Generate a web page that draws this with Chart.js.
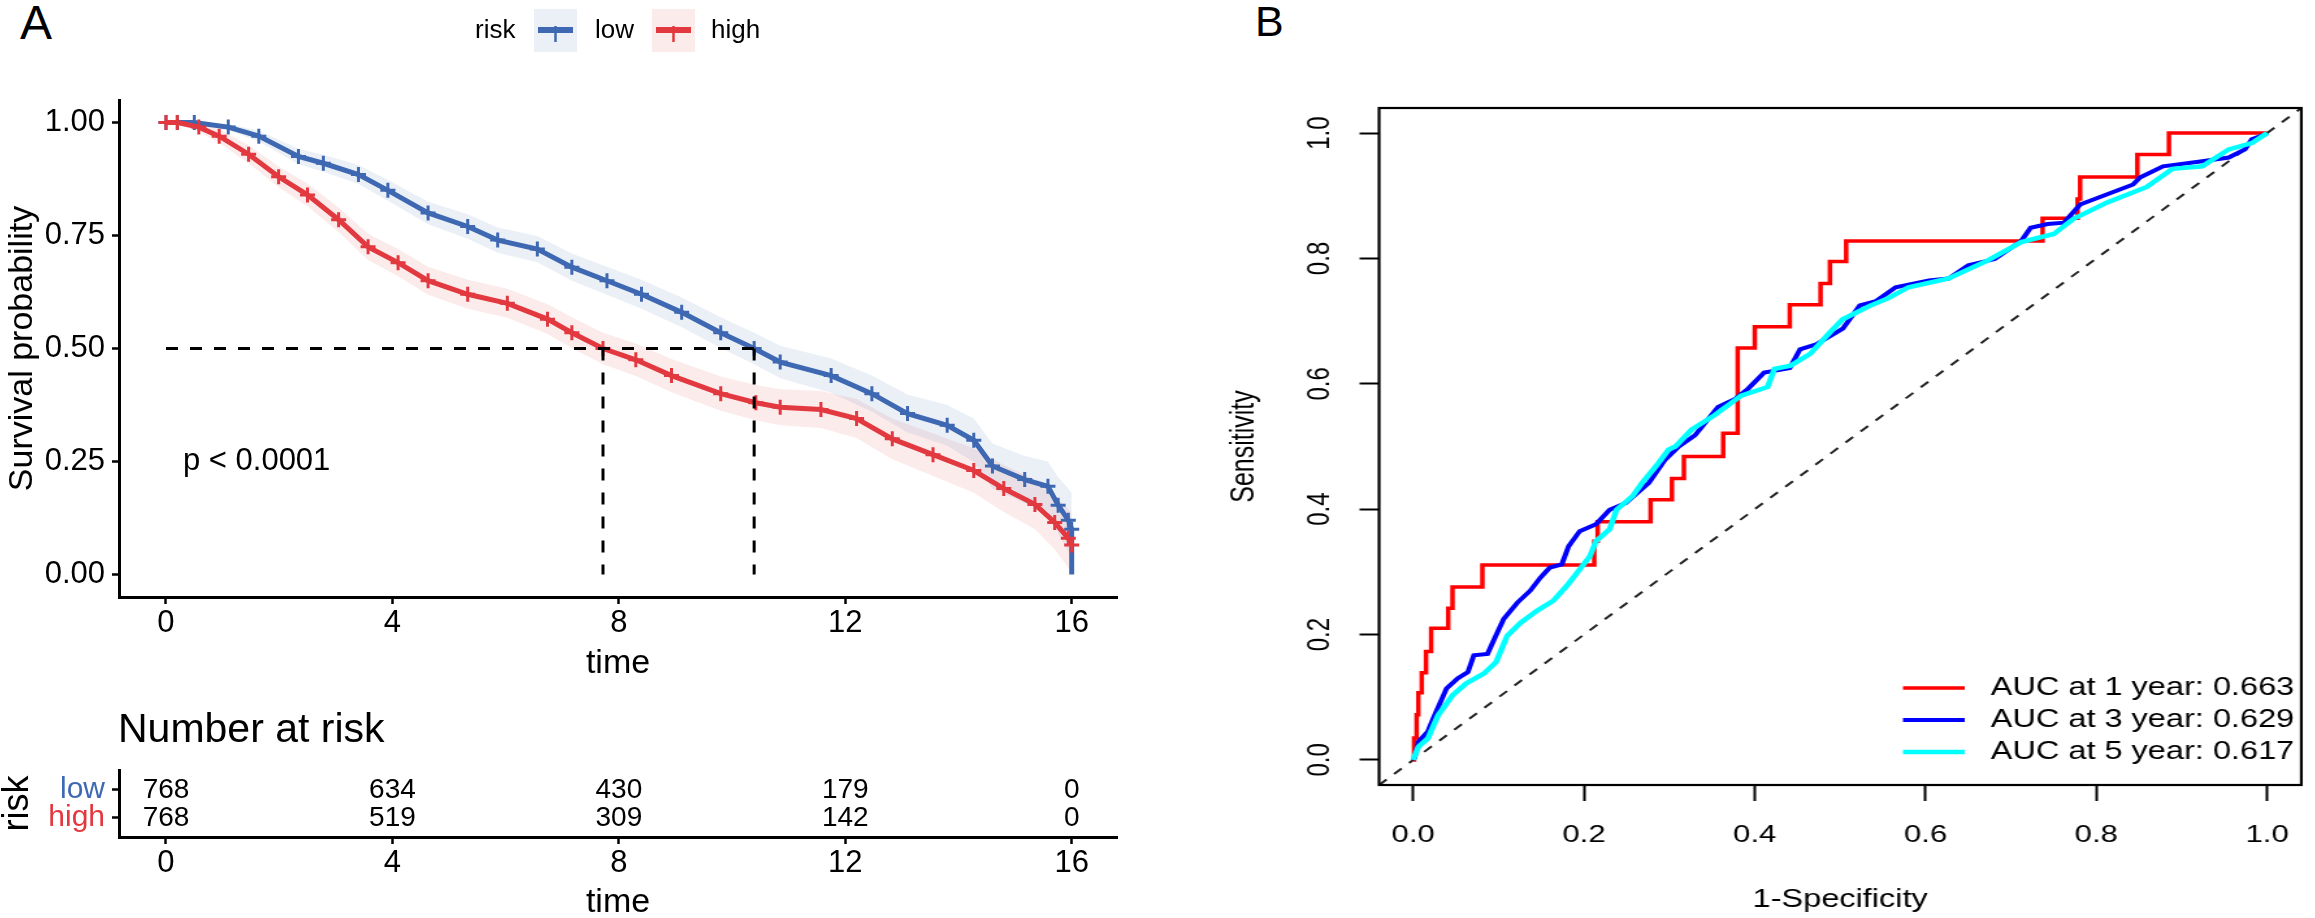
<!DOCTYPE html>
<html>
<head>
<meta charset="utf-8">
<script src="https://cdn.jsdelivr.net/npm/chart.js@4.4.1/dist/chart.umd.min.js"></script>
<style>
  html, body { margin: 0; padding: 0; background: #fff; width: 2315px; height: 918px; overflow: hidden; }
  .box { position: absolute; }
  .tag { position: absolute; font-family: "Liberation Sans", Arial, sans-serif; color: #000; line-height: 1; }
  #tagA { left: 20px; top: -1px; font-size: 48px; }
  #tagB { left: 1255px; top: 0px; font-size: 43px; }
  #wrapA { left: 0; top: 0; width: 1160px; height: 700px; }
  #wrapRisk { left: 0; top: 700px; width: 1160px; height: 224px; }
  #wrapB { left: 1160px; top: 0; width: 888px; height: 918px; transform: scaleX(1.3); transform-origin: 0 0; }
</style>
</head>
<body>
<div class="tag" id="tagA">A</div>
<div class="tag" id="tagB">B</div>
<div class="box" id="wrapA"><canvas id="kmChart" width="1160" height="700"></canvas></div>
<div class="box" id="wrapRisk"><canvas id="riskChart" width="1160" height="224"></canvas></div>
<div class="box" id="wrapB"><canvas id="rocChart" width="888" height="918"></canvas></div>

<script>
// ---- Kaplan-Meier data ----
var groups = ['low', 'high'];
var lowTime  = [0, 0.2, 0.5, 1.1, 1.64, 2.34, 2.78, 3.4, 3.92, 4.63, 5.33, 5.86, 6.56, 7.17, 7.79, 8.4, 9.11, 9.8, 10.39, 10.85, 11.75, 12.47, 13.1, 13.8, 14.27, 14.6, 15.17, 15.58, 15.76, 15.94, 16.0, 16.0];
var lowSurv  = [1.0, 1.0, 1.0, 0.99, 0.97, 0.925, 0.91, 0.885, 0.85, 0.80, 0.77, 0.74, 0.72, 0.68, 0.65, 0.62, 0.58, 0.535, 0.50, 0.47, 0.44, 0.40, 0.356, 0.33, 0.297, 0.24, 0.21, 0.195, 0.153, 0.12, 0.10, 0.0];
var lowUpper = [1, 1, 1, 0.997, 0.982, 0.942, 0.929, 0.906, 0.873, 0.825, 0.797, 0.768, 0.749, 0.71, 0.681, 0.652, 0.613, 0.569, 0.535, 0.506, 0.478, 0.44, 0.398, 0.375, 0.345, 0.29, 0.262, 0.25, 0.215, 0.19, 0.18, 0.18];
var lowLower = [1, 1, 0.997, 0.983, 0.958, 0.908, 0.891, 0.864, 0.827, 0.775, 0.743, 0.712, 0.691, 0.65, 0.619, 0.588, 0.547, 0.501, 0.465, 0.434, 0.402, 0.36, 0.314, 0.285, 0.249, 0.19, 0.158, 0.14, 0.091, 0.05, 0.03, 0.0];

var highTime  = [0, 0.2, 0.58, 0.94, 1.46, 1.99, 2.5, 3.05, 3.57, 4.1, 4.63, 5.33, 6.03, 6.74, 7.17, 7.72, 8.3, 8.93, 9.8, 10.42, 10.85, 11.57, 12.2, 12.83, 13.55, 14.27, 14.8, 15.35, 15.7, 15.94, 16.0];
var highSurv  = [1.0, 1.0, 0.99, 0.97, 0.93, 0.88, 0.84, 0.785, 0.725, 0.69, 0.65, 0.62, 0.60, 0.565, 0.535, 0.50, 0.475, 0.44, 0.40, 0.38, 0.37, 0.365, 0.345, 0.30, 0.265, 0.23, 0.19, 0.155, 0.115, 0.08, 0.065];
var highUpper = [1, 1, 1, 0.985, 0.95, 0.903, 0.865, 0.812, 0.754, 0.72, 0.681, 0.652, 0.632, 0.598, 0.569, 0.535, 0.511, 0.477, 0.438, 0.419, 0.41, 0.406, 0.388, 0.345, 0.312, 0.279, 0.242, 0.21, 0.175, 0.145, 0.135];
var highLower = [1, 0.997, 0.98, 0.955, 0.91, 0.857, 0.815, 0.758, 0.696, 0.66, 0.619, 0.588, 0.568, 0.532, 0.501, 0.465, 0.439, 0.403, 0.362, 0.341, 0.33, 0.324, 0.302, 0.255, 0.218, 0.181, 0.138, 0.1, 0.055, 0.015, 0.0];

var medianTime = [10.39, 7.72];   // low, high
var medianSurv = 0.5;
var pValueText = 'p < 0.0001';

var timeTicks = [0, 4, 8, 12, 16];
var survTicks = [0, 0.25, 0.5, 0.75, 1];

// ---- risk table ----
var riskTimes = [0, 4, 8, 12, 16];
var riskLow   = [768, 634, 430, 179, 0];
var riskHigh  = [768, 519, 309, 142, 0];

// ---- time-dependent ROC ----
var rocYears = [1, 3, 5];
var rocAuc   = [0.663, 0.629, 0.617];
var roc1Fpr = [0, 0.001, 0.004, 0.006, 0.010, 0.015, 0.021, 0.041, 0.046, 0.081, 0.212, 0.216, 0.278, 0.303, 0.317, 0.363, 0.380, 0.400, 0.441, 0.477, 0.488, 0.507, 0.737, 0.778, 0.781, 0.848, 0.885, 1.0];
var roc1Tpr = [0, 0.035, 0.072, 0.107, 0.139, 0.173, 0.210, 0.242, 0.276, 0.311, 0.349, 0.380, 0.415, 0.449, 0.484, 0.521, 0.657, 0.691, 0.726, 0.760, 0.795, 0.828, 0.864, 0.895, 0.930, 0.966, 1.0, 1.0];
var roc3Fpr = [0, 0.002, 0.006, 0.017, 0.025, 0.039, 0.052, 0.064, 0.071, 0.087, 0.095, 0.106, 0.122, 0.137, 0.149, 0.16, 0.174, 0.182, 0.195, 0.214, 0.23, 0.249, 0.276, 0.295, 0.311, 0.33, 0.357, 0.377, 0.392, 0.411, 0.441, 0.453, 0.472, 0.503, 0.523, 0.542, 0.565, 0.604, 0.627, 0.65, 0.681, 0.712, 0.723, 0.743, 0.762, 0.781, 0.812, 0.843, 0.851, 0.878, 0.924, 0.955, 0.974, 0.982, 0.998, 1];
var roc3Tpr = [0, 0.005, 0.029, 0.045, 0.071, 0.114, 0.13, 0.14, 0.167, 0.169, 0.193, 0.225, 0.251, 0.27, 0.291, 0.307, 0.312, 0.341, 0.365, 0.376, 0.399, 0.41, 0.442, 0.479, 0.50, 0.518, 0.563, 0.576, 0.592, 0.618, 0.625, 0.655, 0.663, 0.688, 0.725, 0.732, 0.754, 0.765, 0.768, 0.789, 0.799, 0.828, 0.849, 0.855, 0.857, 0.886, 0.902, 0.918, 0.929, 0.947, 0.955, 0.961, 0.974, 0.99, 0.998, 1];
var roc5Fpr = [0, 0.006, 0.017, 0.029, 0.046, 0.062, 0.083, 0.097, 0.11, 0.126, 0.145, 0.164, 0.18, 0.195, 0.207, 0.214, 0.23, 0.238, 0.257, 0.268, 0.284, 0.299, 0.307, 0.326, 0.353, 0.384, 0.415, 0.423, 0.442, 0.465, 0.488, 0.503, 0.534, 0.557, 0.58, 0.627, 0.673, 0.712, 0.75, 0.773, 0.812, 0.859, 0.889, 0.924, 0.955, 0.982, 1];
var roc5Tpr = [0, 0.021, 0.034, 0.071, 0.103, 0.122, 0.138, 0.156, 0.198, 0.219, 0.238, 0.254, 0.278, 0.304, 0.325, 0.349, 0.368, 0.399, 0.421, 0.442, 0.468, 0.495, 0.50, 0.527, 0.55, 0.581, 0.595, 0.624, 0.629, 0.648, 0.682, 0.703, 0.724, 0.737, 0.754, 0.768, 0.797, 0.826, 0.839, 0.863, 0.889, 0.914, 0.943, 0.947, 0.974, 0.984, 1];
var rateTicks = [0, 0.2, 0.4, 0.6, 0.8, 1.0];
var chanceLine = [-0.04, 1.04];

// ---- styling ----
var FONT = '"Liberation Sans", Arial, sans-serif';
var lineColors = ['#3F68B2', '#E2383F'];
var bandColors = ['rgba(63,104,178,0.10)', 'rgba(226,56,63,0.10)'];
var rocColors = ['#FF0000', '#0000FF', '#00FFFF'];
var rocWidths = [3.5, 4, 4.5];

Chart.defaults.font.family = FONT;
Chart.defaults.color = '#000';

function pts(xs, ys) {
  return xs.map(function (v, i) { return { x: v, y: ys[i] }; });
}
function fixedTicks(list) {
  return function (scale) { scale.ticks = list.map(function (v) { return { value: v }; }); };
}
function band(xs, ys, fill, color) {
  return { data: pts(xs, ys), showLine: true, fill: fill, backgroundColor: color,
    borderColor: 'transparent', borderWidth: 1, pointRadius: 0, order: 10 };
}
function dashed(data) {
  return { data: data, showLine: true, borderColor: '#000', borderWidth: 3, borderDash: [12, 12],
    pointRadius: 0, fill: false, order: 0 };
}

// ---- Panel A: survival curves ----
var kmExtras = {
  id: 'kmExtras',
  afterDraw: function (chart) {
    var ctx = chart.ctx, x = chart.scales.x, y = chart.scales.y;
    ctx.save();
    ctx.fillStyle = '#000';
    ctx.textBaseline = 'middle';
    ctx.textAlign = 'left';
    ctx.font = '31px ' + FONT;
    ctx.fillText(pValueText, x.getPixelForValue(0.3), y.getPixelForValue(0.25));

    // legend on top
    ctx.font = '26px ' + FONT;
    ctx.fillText('risk', 475, 31);
    var boxX = [534, 652], textX = [595, 711];
    groups.forEach(function (g, i) {
      ctx.fillStyle = bandColors[i];
      ctx.fillRect(boxX[i], 9, 43, 43);
      ctx.strokeStyle = lineColors[i];
      ctx.lineWidth = 6;
      ctx.beginPath(); ctx.moveTo(boxX[i] + 4, 30); ctx.lineTo(boxX[i] + 39, 30); ctx.stroke();
      ctx.lineWidth = 2.5;
      ctx.beginPath(); ctx.moveTo(boxX[i] + 21.5, 26); ctx.lineTo(boxX[i] + 21.5, 42); ctx.stroke();
      ctx.fillStyle = '#000';
      ctx.fillText(g, textX[i], 31);
    });
    ctx.restore();
  }
};

new Chart(document.getElementById('kmChart').getContext('2d'), {
  type: 'scatter',
  data: {
    datasets: [
      band(lowTime, lowUpper, '+1', bandColors[0]),
      band(lowTime, lowLower, false, bandColors[0]),
      band(highTime, highUpper, '+1', bandColors[1]),
      band(highTime, highLower, false, bandColors[1]),
      {
        label: 'low', data: pts(lowTime, lowSurv), showLine: true, fill: false,
        borderColor: lineColors[0], borderWidth: 5,
        pointStyle: 'cross', pointBorderColor: lineColors[0], pointBorderWidth: 3,
        pointRadius: function (c) { return c.dataIndex === lowTime.length - 1 ? 0 : 7.5; },
        order: 2
      },
      {
        label: 'high', data: pts(highTime, highSurv), showLine: true, fill: false,
        borderColor: lineColors[1], borderWidth: 5,
        pointStyle: 'cross', pointBorderColor: lineColors[1], pointBorderWidth: 3, pointRadius: 7.5,
        order: 1
      },
      dashed([{ x: 0, y: medianSurv }, { x: medianTime[0], y: medianSurv }]),
      dashed([{ x: medianTime[1], y: medianSurv }, { x: medianTime[1], y: 0 }]),
      dashed([{ x: medianTime[0], y: medianSurv }, { x: medianTime[0], y: 0 }])
    ]
  },
  options: {
    responsive: false,
    animation: false,
    events: [],
    layout: { padding: { top: 100, left: 0, right: 43, bottom: 0 } },
    plugins: { legend: { display: false }, tooltip: { enabled: false } },
    scales: {
      x: {
        type: 'linear', min: -0.83, max: 16.8,
        afterBuildTicks: fixedTicks(timeTicks),
        afterFit: function (s) { s.height = 103; },
        ticks: { font: { size: 31 }, color: '#000', padding: 1, maxRotation: 0 },
        grid: { drawOnChartArea: false, tickLength: 7, tickWidth: 2.5, tickColor: '#000' },
        border: { display: true, color: '#000', width: 3 },
        title: { display: true, text: 'time', color: '#000', font: { size: 34, lineHeight: 1.2 }, padding: { top: 0, bottom: 16 } }
      },
      y: {
        type: 'linear', min: -0.05, max: 1.05,
        afterBuildTicks: fixedTicks(survTicks),
        afterFit: function (s) { s.width = 119; },
        ticks: { font: { size: 31 }, color: '#000', padding: 7, callback: function (v) { return v.toFixed(2); } },
        grid: { drawOnChartArea: false, tickLength: 7, tickWidth: 2.5, tickColor: '#000' },
        border: { display: true, color: '#000', width: 3 },
        title: { display: true, text: 'Survival probability', color: '#000', font: { size: 34, lineHeight: 1.2 }, padding: { top: 2, bottom: 0 } }
      }
    }
  },
  plugins: [kmExtras]
});

// ---- Panel A: number at risk ----
var riskExtras = {
  id: 'riskExtras',
  afterDraw: function (chart) {
    var ctx = chart.ctx;
    ctx.save();
    ctx.fillStyle = '#000';
    ctx.textBaseline = 'middle';
    ctx.textAlign = 'left';
    ctx.font = '41px ' + FONT;
    ctx.fillText('Number at risk', chart.chartArea.left - 1, 31);
    ctx.font = '28px ' + FONT;
    ctx.textAlign = 'center';
    [riskLow, riskHigh].forEach(function (row, d) {
      var meta = chart.getDatasetMeta(d);
      meta.data.forEach(function (p, i) { ctx.fillText(String(row[i]), p.x, p.y); });
    });
    ctx.restore();
  }
};

new Chart(document.getElementById('riskChart').getContext('2d'), {
  type: 'scatter',
  data: {
    datasets: [
      { data: riskTimes.map(function (t) { return { x: t, y: 2 }; }), pointRadius: 0 },
      { data: riskTimes.map(function (t) { return { x: t, y: 1 }; }), pointRadius: 0 }
    ]
  },
  options: {
    responsive: false,
    animation: false,
    events: [],
    layout: { padding: { top: 70, left: 0, right: 43, bottom: 0 } },
    plugins: { legend: { display: false }, tooltip: { enabled: false } },
    scales: {
      x: {
        type: 'linear', min: -0.83, max: 16.8,
        afterBuildTicks: fixedTicks(riskTimes),
        afterFit: function (s) { s.height = 87; },
        ticks: { font: { size: 31 }, color: '#000', padding: 1, maxRotation: 0 },
        grid: { drawOnChartArea: false, tickLength: 7, tickWidth: 2.5, tickColor: '#000' },
        border: { display: true, color: '#000', width: 3 },
        title: { display: true, text: 'time', color: '#000', font: { size: 34, lineHeight: 1.2 }, padding: { top: 0, bottom: 1 } }
      },
      y: {
        type: 'linear', min: 0.32, max: 2.71,
        afterBuildTicks: fixedTicks([1, 2]),
        afterFit: function (s) { s.width = 119; },
        ticks: {
          font: { size: 30 }, padding: 7,
          color: function (c) { return c.tick && c.tick.value === 2 ? lineColors[0] : lineColors[1]; },
          callback: function (v) { return v === 2 ? groups[0] : groups[1]; }
        },
        grid: { drawOnChartArea: false, tickLength: 7, tickWidth: 2.5, tickColor: '#000' },
        border: { display: true, color: '#000', width: 3 },
        title: { display: true, text: 'risk', color: '#000', font: { size: 36, lineHeight: 1.0 }, padding: { top: 0, bottom: 0 } }
      }
    }
  },
  plugins: [riskExtras]
});

// ---- Panel B: ROC ----
var rocExtras = {
  id: 'rocExtras',
  afterDraw: function (chart) {
    var ctx = chart.ctx, a = chart.chartArea, y = chart.scales.y;
    ctx.save();
    ctx.strokeStyle = '#000';
    ctx.lineWidth = 2.2;
    ctx.strokeRect(a.left, a.top, a.right - a.left, a.bottom - a.top);

    ctx.fillStyle = '#000';
    ctx.font = '24px ' + FONT;
    rateTicks.forEach(function (v) {
      ctx.save();
      ctx.translate(123, y.getPixelForValue(v));
      ctx.rotate(-Math.PI / 2);
      ctx.textAlign = 'center';
      ctx.textBaseline = 'middle';
      ctx.fillText(v.toFixed(1), 0, 0);
      ctx.restore();
    });

    var rowY = [688, 720, 752];
    ctx.font = '25px ' + FONT;
    ctx.textAlign = 'left';
    ctx.textBaseline = 'middle';
    rocYears.forEach(function (yr, i) {
      ctx.strokeStyle = rocColors[i];
      ctx.lineWidth = rocWidths[i];
      ctx.beginPath(); ctx.moveTo(571.5, rowY[i]); ctx.lineTo(619, rowY[i]); ctx.stroke();
      ctx.fillStyle = '#000';
      ctx.fillText('AUC at ' + yr + ' year: ' + rocAuc[i].toFixed(3), 639, rowY[i]);
    });
    ctx.restore();
  }
};

function rocLine(xs, ys, i, stepped) {
  return { label: 'AUC at ' + rocYears[i] + ' year', data: pts(xs, ys), showLine: true, fill: false,
    stepped: stepped, borderColor: rocColors[i], borderWidth: rocWidths[i], pointRadius: 0, order: 3 - i };
}

new Chart(document.getElementById('rocChart').getContext('2d'), {
  type: 'scatter',
  data: {
    datasets: [
      rocLine(roc1Fpr, roc1Tpr, 0, 'before'),
      rocLine(roc3Fpr, roc3Tpr, 1, false),
      rocLine(roc5Fpr, roc5Tpr, 2, false),
      { data: pts(chanceLine, chanceLine), showLine: true, fill: false, borderColor: '#222',
        borderWidth: 2, borderDash: [8, 8], pointRadius: 0, order: 4 }
    ]
  },
  options: {
    responsive: false,
    animation: false,
    events: [],
    layout: { padding: { top: 108, left: 0, right: 1.8, bottom: 0 } },
    plugins: { legend: { display: false }, tooltip: { enabled: false } },
    scales: {
      x: {
        type: 'linear', min: -0.04, max: 1.04,
        afterBuildTicks: fixedTicks(rateTicks),
        afterFit: function (s) { s.height = 133; },
        ticks: { font: { size: 24 }, color: '#000', padding: 19.6, maxRotation: 0, callback: function (v) { return v.toFixed(1); } },
        grid: { drawOnChartArea: false, tickLength: 16, tickWidth: 2, tickColor: '#000' },
        border: { display: false },
        title: { display: true, text: '1-Specificity', color: '#000', font: { size: 25, lineHeight: 1.2 }, padding: { top: 0, bottom: 3 } }
      },
      y: {
        type: 'linear', min: -0.04, max: 1.04,
        afterBuildTicks: fixedTicks(rateTicks),
        afterFit: function (s) { s.width = 168.5; },
        ticks: { display: false },
        grid: { drawOnChartArea: false, tickLength: 15, tickWidth: 2, tickColor: '#000' },
        border: { display: false },
        title: { display: true, text: 'Sensitivity', color: '#000', font: { size: 25, lineHeight: 1.2 }, padding: { top: 50, bottom: 0 } }
      }
    }
  },
  plugins: [rocExtras]
});
</script>
</body>
</html>
